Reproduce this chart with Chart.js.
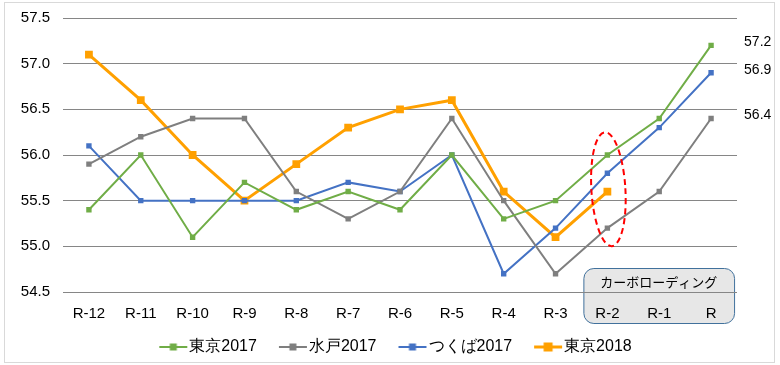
<!DOCTYPE html>
<html><head><meta charset="utf-8">
<script src="https://cdn.jsdelivr.net/npm/chart.js@4"></script>
<style>
html,body{margin:0;padding:0;background:#fff;overflow:hidden;}
canvas{display:block;}
</style></head>
<body>
<canvas id="c" width="780" height="365"></canvas>
<script>
const categories = ['R-12','R-11','R-10','R-9','R-8','R-7','R-6','R-5','R-4','R-3','R-2','R-1','R'];
const tokyo2017  = [55.4,56.0,55.1,55.7,55.4,55.6,55.4,56.0,55.3,55.5,56.0,56.4,57.2];
const mito2017   = [55.9,56.2,56.4,56.4,55.6,55.3,55.6,56.4,55.5,54.7,55.2,55.6,56.4];
const tsukuba2017= [56.1,55.5,55.5,55.5,55.5,55.7,55.6,56.0,54.7,55.2,55.8,56.3,56.9];
const tokyo2018  = [57.1,56.6,56.0,55.5,55.9,56.3,56.5,56.6,55.6,55.1,55.6,null,null];
const seriesNames = ['東京2017','水戸2017','つくば2017','東京2018'];
const boxLabel = 'カーボローディング';
const yTicks = {min:54.5,max:57.5,step:0.5};

const colors = ['#70ad47','#7f7f7f','#4472c4','#ffa000'];
const FONT = "'Liberation Sans Narrow','Liberation Sans',Arial,sans-serif";
const LEG_W = 40, LEG_FONT = 16;

function legendIcon(color, big){
  const w = LEG_W + 14;
  const cv = document.createElement('canvas');
  cv.width = w; cv.height = 12;
  const g = cv.getContext('2d');
  g.strokeStyle = color; g.lineWidth = big?3:2;
  g.beginPath(); g.moveTo(w-29,6); g.lineTo(w-1,6); g.stroke();
  g.fillStyle = color;
  const s = big?9:7;
  const cx = w-15;
  g.fillRect(cx-s/2,6-s/2,s,s);
  return cv;
}

const data = {
  labels: categories,
  datasets: [tokyo2017,mito2017,tsukuba2017,tokyo2018].map((d,i)=>({
    label: seriesNames[i],
    data: d,
    borderColor: colors[i],
    backgroundColor: colors[i],
    borderWidth: i===3?3:2,
    pointStyle: 'rect',
    pointRadius: i===3?5.5:3.8,
    pointHoverRadius: i===3?5.5:3.8,
    pointBorderWidth: 0,
    tension: 0,
    spanGaps: false
  }))
};

const boxPlugin = {
  id:'boxPlugin',
  afterLayout(chart){
    if (chart.legend){ chart.legend.left += 18; chart.legend.right += 18; }
  },
  beforeDraw(chart){
    const {ctx, scales:{x,y}} = chart;
    ctx.save();
    ctx.fillStyle='#fff';
    ctx.fillRect(0,0,chart.width,chart.height);
    ctx.strokeStyle='#d9d9d9';
    ctx.lineWidth=1;
    ctx.strokeRect(4.5,2.5,770,360);
    const x0 = x.getPixelForValue(10) - 24;
    const x1 = x.getPixelForValue(12) + 23;
    const y0 = y.getPixelForValue(54.5) - 24;
    const y1 = y.getPixelForValue(54.5) + 31;
    ctx.beginPath();
    ctx.roundRect(x0+0.5,y0+0.5,x1-x0,y1-y0,10);
    ctx.fillStyle = '#e7e7e7';
    ctx.fill();
    ctx.strokeStyle = '#41719c';
    ctx.lineWidth = 1;
    ctx.stroke();
    ctx.fillStyle = '#000';
    ctx.font = "13px 'Noto Sans CJK JP',sans-serif";
    ctx.textAlign = 'center';
    ctx.textBaseline = 'middle';
    ctx.fillText(boxLabel,(x0+x1)/2,y0+14);
    ctx.restore();
  },
  afterDatasetsDraw(chart){
    const {ctx, scales:{x,y}} = chart;
    const cx = x.getPixelForValue(10)+1;
    const cy = (y.getPixelForValue(56.2)+y.getPixelForValue(55.05))/2;
    ctx.save();
    ctx.beginPath();
    ctx.ellipse(cx,cy,17,57,-0.06,0,Math.PI*2);
    ctx.strokeStyle = '#ff0000';
    ctx.lineWidth = 2;
    ctx.setLineDash([6,4]);
    ctx.stroke();
    ctx.restore();
    ctx.save();
    ctx.font = "14px 'Liberation Sans',Arial,sans-serif";
    ctx.fillStyle = '#000';
    ctx.textAlign = 'left';
    ctx.textBaseline = 'middle';
    [0,1,2].forEach(i=>{
      const pt = chart.getDatasetMeta(i).data[12];
      const v = chart.data.datasets[i].data[12];
      ctx.fillText(v.toFixed(1), pt.x+33, pt.y-3);
    });
    ctx.restore();
  }
};

new Chart(document.getElementById('c'),{
  type:'line',
  data,
  plugins:[boxPlugin],
  options:{
    responsive:false,
    animation:false,
    events:[],
    layout:{padding:{left:0,right:43,top:18,bottom:0}},
    plugins:{
      legend:{
        position:'bottom',
        labels:{
          usePointStyle:true,
          pointStyleWidth:LEG_W,
          generateLabels(chart){
            return chart.data.datasets.map((ds,i)=>({
              text: ds.label,
              pointStyle: legendIcon(colors[i], i===3),
              fillStyle: colors[i], strokeStyle: colors[i], lineWidth:0,
              datasetIndex:i, fontColor:'#000'
            }));
          },
          font:{family:FONT,size:LEG_FONT},
          color:'#000',
          padding:4,
          boxHeight:12
        }
      },
      tooltip:{enabled:false}
    },
    scales:{
      x:{
        offset:true,
        grid:{display:false},
        border:{display:false},
        ticks:{font:{family:FONT,size:15},color:'#000',padding:5,maxRotation:0},
        afterFit(s){ s.height = 43; s.paddingLeft = 0; s.paddingRight = 0; }
      },
      y:{
        min:yTicks.min,max:yTicks.max,
        grid:{color:'#868686',lineWidth:1,drawTicks:false},
        border:{display:false},
        ticks:{stepSize:yTicks.step,font:{family:"'Liberation Sans',Arial,sans-serif",size:15},color:'#000',padding:13,
          callback:v=>Number(v).toFixed(1)},
        afterFit(s){ s.width = 63; s.paddingTop = 0; s.paddingBottom = 0; }
      }
    }
  }
});
</script>
</body></html>
